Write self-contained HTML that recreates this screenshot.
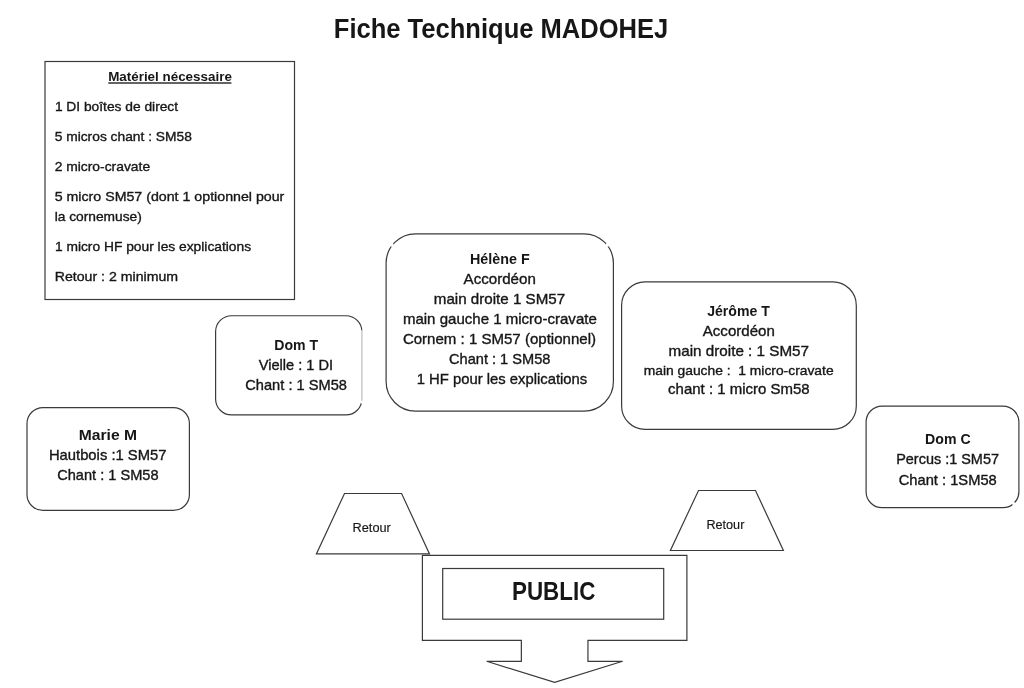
<!DOCTYPE html>
<html><head><meta charset="utf-8"><title>Fiche Technique MADOHEJ</title>
<style>
html,body{margin:0;padding:0;background:#fff;}
body{width:1024px;height:688px;overflow:hidden;}
svg{display:block;will-change:transform;}
text{font-family:"Liberation Sans",sans-serif;fill:#161616;stroke:#161616;stroke-width:0.35px;}
.b{font-weight:bold;stroke:none;}
.r{stroke-width:0.15px;}
</style></head><body>
<svg width="1024" height="688" viewBox="0 0 1024 688">
<rect x="0" y="0" width="1024" height="688" fill="#fff"/>
<g stroke="#3a3a3a" stroke-width="1.2" fill="none" stroke-linejoin="miter">

<rect x="45" y="61.5" width="249.5" height="238"/>
<line x1="108.3" y1="83.0" x2="231.4" y2="83.0" stroke-width="1.3" stroke="#303030"/>
<rect x="215.6" y="315.75" width="146.30" height="99.15" rx="16" ry="16"/>
<rect x="386.1" y="233.8" width="227.30" height="177.30" rx="29.5" ry="29.5"/>
<rect x="621.6" y="281.9" width="234.70" height="147.50" rx="23.5" ry="23.5"/>
<rect x="27.0" y="407.6" width="162.40" height="102.80" rx="16" ry="16"/>
<rect x="866.1" y="406.1" width="152.80" height="101.60" rx="16" ry="16"/>
<polygon points="344.5,493.5 401.6,493.5 429.5,553.9 316.4,553.9"/>
<polygon points="698.5,490.5 755.5,490.5 783.4,550.5 670.4,550.5"/>
<polygon points="422.4,555.3 686.9,555.3 686.9,640.3 587.95,640.3 587.95,661.3 622.65,661.3 554.65,682.3 486.65,661.3 521.35,661.3 521.35,640.3 422.4,640.3"/>
<rect x="442.7" y="568.5" width="221" height="50.7"/>
<line x1="361.9" y1="330.5" x2="361.9" y2="403.5" stroke="#fff" stroke-width="2.6"/>
<line x1="361.9" y1="330.5" x2="361.9" y2="400.8" stroke="#bdbdbd" stroke-width="1.2"/>
<circle cx="391.9" cy="244.9" r="1.8" fill="#fff" stroke="none"/>
<circle cx="607.4" cy="244.9" r="1.8" fill="#fff" stroke="none"/>
<circle cx="1013.4" cy="503.3" r="1.6" fill="#fff" stroke="none"/>

</g>
<g>
<text x="333.80" y="38.00" font-size="27.5" class="b" textLength="334.50" lengthAdjust="spacingAndGlyphs">Fiche Technique MADOHEJ</text>
<text x="108.15" y="81.00" font-size="13.4" class="b" textLength="123.70" lengthAdjust="spacingAndGlyphs">Matériel nécessaire</text>
<text x="54.90" y="111.00" font-size="13.1" textLength="123.20" lengthAdjust="spacingAndGlyphs">1 DI boîtes de direct</text>
<text x="54.70" y="141.00" font-size="13.1" textLength="137.15" lengthAdjust="spacingAndGlyphs">5 micros chant : SM58</text>
<text x="54.70" y="171.00" font-size="13.1" textLength="95.40" lengthAdjust="spacingAndGlyphs">2 micro-cravate</text>
<text x="54.70" y="201.00" font-size="13.1" textLength="229.65" lengthAdjust="spacingAndGlyphs">5 micro SM57 (dont 1 optionnel pour</text>
<text x="54.70" y="221.00" font-size="13.1" textLength="87.15" lengthAdjust="spacingAndGlyphs">la cornemuse)</text>
<text x="54.90" y="251.00" font-size="13.1" textLength="196.20" lengthAdjust="spacingAndGlyphs">1 micro HF pour les explications</text>
<text x="54.70" y="281.00" font-size="13.1" textLength="123.40" lengthAdjust="spacingAndGlyphs">Retour : 2 minimum</text>
<text x="274.30" y="350.00" font-size="14.2" class="b" textLength="43.90" lengthAdjust="spacingAndGlyphs">Dom T</text>
<text x="258.70" y="370.00" font-size="14.3" textLength="74.50" lengthAdjust="spacingAndGlyphs">Vielle : 1 DI</text>
<text x="245.30" y="390.00" font-size="14.3" textLength="101.60" lengthAdjust="spacingAndGlyphs">Chant : 1 SM58</text>
<text x="470.00" y="264.00" font-size="14.2" class="b" textLength="59.70" lengthAdjust="spacingAndGlyphs">Hélène F</text>
<text x="463.60" y="284.00" font-size="14.3" textLength="72.20" lengthAdjust="spacingAndGlyphs">Accordéon</text>
<text x="433.80" y="304.00" font-size="14.3" textLength="131.30" lengthAdjust="spacingAndGlyphs">main droite 1 SM57</text>
<text x="402.90" y="324.00" font-size="14.3" textLength="193.90" lengthAdjust="spacingAndGlyphs">main gauche 1 micro-cravate</text>
<text x="402.90" y="344.00" font-size="14.3" textLength="193.10" lengthAdjust="spacingAndGlyphs">Cornem : 1 SM57 (optionnel)</text>
<text x="449.00" y="364.00" font-size="14.3" textLength="101.40" lengthAdjust="spacingAndGlyphs">Chant : 1 SM58</text>
<text x="416.70" y="384.00" font-size="14.3" textLength="170.50" lengthAdjust="spacingAndGlyphs">1 HF pour les explications</text>
<text x="707.20" y="316.00" font-size="14.2" class="b" textLength="62.70" lengthAdjust="spacingAndGlyphs">Jérôme T</text>
<text x="702.80" y="336.00" font-size="14.3" textLength="72.00" lengthAdjust="spacingAndGlyphs">Accordéon</text>
<text x="668.60" y="356.00" font-size="14.3" textLength="140.40" lengthAdjust="spacingAndGlyphs">main droite : 1 SM57</text>
<text x="643.70" y="375.00" font-size="13.4" textLength="189.90" lengthAdjust="spacingAndGlyphs" xml:space="preserve">main gauche :  1 micro-cravate</text>
<text x="668.10" y="394.00" font-size="14.3" textLength="141.60" lengthAdjust="spacingAndGlyphs">chant : 1 micro Sm58</text>
<text x="78.80" y="440.00" font-size="14.2" class="b" textLength="58.20" lengthAdjust="spacingAndGlyphs">Marie M</text>
<text x="48.90" y="460.00" font-size="14.3" textLength="117.60" lengthAdjust="spacingAndGlyphs">Hautbois :1 SM57</text>
<text x="57.20" y="480.00" font-size="14.3" textLength="101.40" lengthAdjust="spacingAndGlyphs">Chant : 1 SM58</text>
<text x="925.10" y="444.00" font-size="14.2" class="b" textLength="45.50" lengthAdjust="spacingAndGlyphs">Dom C</text>
<text x="896.20" y="464.00" font-size="14.3" textLength="102.80" lengthAdjust="spacingAndGlyphs">Percus :1 SM57</text>
<text x="898.70" y="485.00" font-size="14.3" textLength="98.10" lengthAdjust="spacingAndGlyphs">Chant : 1SM58</text>
<text x="352.60" y="532.00" font-size="12.3" class="r" textLength="38.20" lengthAdjust="spacingAndGlyphs">Retour</text>
<text x="706.40" y="529.00" font-size="12.3" class="r" textLength="38.00" lengthAdjust="spacingAndGlyphs">Retour</text>
<text x="512.00" y="600.00" font-size="25.2" class="b" textLength="83.30" lengthAdjust="spacingAndGlyphs">PUBLIC</text>
</g>
</svg>
</body></html>
